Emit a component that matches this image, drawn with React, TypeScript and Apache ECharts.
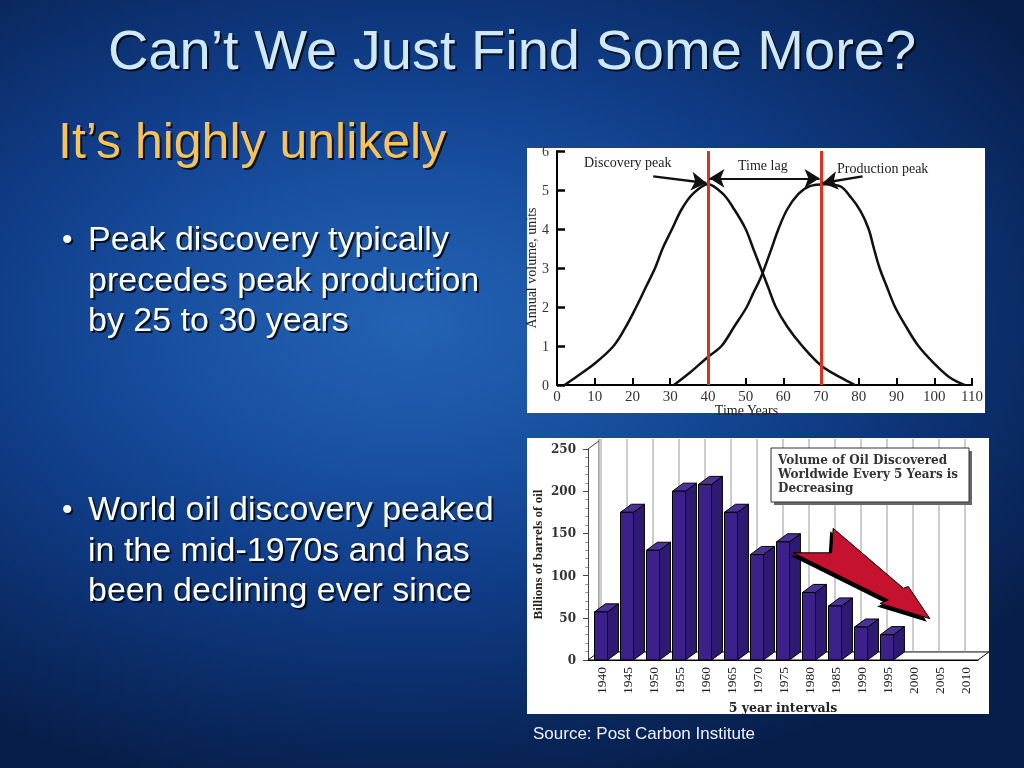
import React, { useEffect, useRef } from "react";
import * as echarts from "echarts";

// ---------- slide text ----------
const TITLE = "Can’t We Just Find Some More?";
const SUBTITLE = "It’s highly unlikely";
const BULLET_1 = ["Peak discovery typically", "precedes peak production", "by 25 to 30 years"];
const BULLET_2 = ["World oil discovery peaked", "in the mid-1970s and has", "been declining ever since"];
const SOURCE = "Source: Post Carbon Institute";

// ---------- top chart: discovery vs production ----------
const DISCOVERY_X = [2, 5, 10, 15, 18, 21, 23.5, 26, 28, 30.5, 33, 36, 40, 44, 47, 50, 52, 54, 56, 58, 61, 65, 70, 75, 79];
const DISCOVERY_Y = [0, 0.2, 0.55, 1.0, 1.45, 2.0, 2.5, 3.0, 3.5, 4.0, 4.5, 4.9, 5.15, 4.9, 4.5, 4.0, 3.5, 3.0, 2.5, 2.0, 1.5, 1.0, 0.5, 0.2, 0];
const PRODUCTION_X = [31, 35, 40, 43.6, 47, 50.3, 52, 54, 56.5, 58.7, 61, 64, 67, 71, 75, 78, 80.5, 82.6, 84, 85.5, 87.5, 89.6, 92.5, 95.8, 100, 104, 108];
const PRODUCTION_Y = [0, 0.3, 0.72, 1.0, 1.5, 2.0, 2.35, 2.75, 3.4, 4.0, 4.5, 4.9, 5.1, 5.15, 5.1, 4.8, 4.45, 4.0, 3.5, 3.0, 2.5, 2.0, 1.5, 1.0, 0.55, 0.2, 0];
const PEAK_YEARS = [40, 70];
const DISCOVERY_ARROW = [[25.5, 5.35], [39.6, 5.18]];
const PRODUCTION_ARROW = [[81, 5.35], [70.4, 5.18]];
const LAG_ARROW = [[40.4, 5.3], [69.6, 5.3]];
const TOP_NOTES = ["Discovery peak", "Time lag", "Production peak"];

// ---------- bottom chart: oil discovered ----------
const YEARS = ["1940", "1945", "1950", "1955", "1960", "1965", "1970", "1975", "1980", "1985", "1990", "1995", "2000", "2005", "2010"];
const OIL_DISCOVERED = [57, 175, 130, 200, 208, 175, 125, 140, 80, 64, 39, 30, null, null, null];
const NOTE_LINES = ["Volume of Oil Discovered", "Worldwide Every 5 Years is", "Decreasing"];
// red trend arrow outline in (category index, value) space
const TREND_ARROW = [[7.4, 127], [8.87, 127], [8.93, 156], [11.63, 85], [11.82, 87], [12.65, 49], [10.73, 67], [11.05, 71]];

const SERIF = '"Liberation Serif", "Times New Roman", serif';
const WSERIF = '"DejaVu Serif", serif';
const SANS = '"Liberation Sans", Arial, sans-serif';

export default function App() {
  const ref = useRef<HTMLDivElement>(null);

  useEffect(() => {
    if (!ref.current) return;
    const chart = echarts.init(ref.current, undefined, { renderer: "svg" });

    const DEPTH_X = 0.42;
    const DEPTH_Y = 0.31;
    const BAR_W = 0.5;

    const textEl = (text: string, x: number, y: number, font: string, fill: string, align = "left", z = 20) => ({
      type: "text",
      x,
      y,
      z,
      silent: true,
      style: { text, font, fill, align, verticalAlign: "middle", textAlign: align, textVerticalAlign: "middle" },
    });
    // slide text with a dark drop shadow (drawn as an offset copy)
    const shadowed = (text: string, x: number, y: number, font: string, fill: string, align = "left") => [
      textEl(text, x + 2, y + 2, font, "rgba(0,0,0,0.75)", align, 19),
      textEl(text, x, y, font, fill, align, 20),
    ];

    const graphics: any[] = [
      { type: "rect", z: -5, silent: true, shape: { x: 527, y: 148, width: 458, height: 265 }, style: { fill: "#ffffff" } },
      { type: "rect", z: -5, silent: true, shape: { x: 527, y: 438, width: 462, height: 276 }, style: { fill: "#ffffff" } },
      ...shadowed(TITLE, 512, 49, `56px ${SANS}`, "#cfe9fb", "center"),
      ...shadowed(SUBTITLE, 58, 141, `50px ${SANS}`, "#f6c25a"),
      ...shadowed("•", 62, 238, `30px ${SANS}`, "#ffffff"),
      ...shadowed("•", 62, 508, `30px ${SANS}`, "#ffffff"),
      ...BULLET_1.flatMap((t, i) => shadowed(t, 88, 238 + i * 40.5, `34px ${SANS}`, "#ffffff")),
      ...BULLET_2.flatMap((t, i) => shadowed(t, 88, 508 + i * 40.5, `34px ${SANS}`, "#ffffff")),
      textEl(SOURCE, 533, 733, `17px ${SANS}`, "#eef3ff"),
      textEl(TOP_NOTES[0], 584, 162, `14px ${SERIF}`, "#222"),
      textEl(TOP_NOTES[1], 738, 165, `14px ${SERIF}`, "#222"),
      textEl(TOP_NOTES[2], 837, 168, `14px ${SERIF}`, "#222"),
      { type: "rect", z: 18, silent: true, shape: { x: 774, y: 451, width: 198, height: 54 }, style: { fill: "#666" } },
      { type: "rect", z: 19, silent: true, shape: { x: 771, y: 448, width: 198, height: 54 }, style: { fill: "#fff", stroke: "#333", lineWidth: 1 } },
      ...NOTE_LINES.map((t, i) => textEl(t, 778, 460 + i * 14, `bold 12px ${WSERIF}`, "#333")),
    ];

    const option: any = {
      animation: false,
      grid: [
        { left: 557, top: 151, width: 415, height: 234 },
        { left: 588, top: 449, width: 390, height: 211 },
      ],
      xAxis: [
        {
          type: "value",
          gridIndex: 0,
          min: 0,
          max: 110,
          interval: 10,
          name: "Time Years",
          nameLocation: "middle",
          nameGap: 18,
          nameTextStyle: { fontFamily: SERIF, fontSize: 14, color: "#222", padding: [0, 36, 0, 0] },
          axisLine: { lineStyle: { color: "#000", width: 2 } },
          axisTick: { inside: true, length: 7, lineStyle: { color: "#000", width: 2 } },
          axisLabel: { fontFamily: SERIF, fontSize: 15, color: "#333", margin: 3 },
          splitLine: { show: false },
        },
        {
          type: "category",
          gridIndex: 1,
          data: YEARS,
          name: "5 year intervals",
          nameLocation: "middle",
          nameGap: 41,
          nameTextStyle: { fontFamily: WSERIF, fontWeight: "bold", fontSize: 12.5, color: "#222" },
          axisLine: { lineStyle: { color: "#000", width: 1 } },
          axisTick: { length: 6, lineStyle: { color: "#333" } },
          axisLabel: { rotate: 90, fontFamily: SERIF, fontSize: 13.5, color: "#222", margin: 7 },
          splitLine: { show: false },
        },
      ],
      yAxis: [
        {
          type: "value",
          gridIndex: 0,
          min: 0,
          max: 6,
          interval: 1,
          name: "Annual volume, units",
          nameLocation: "middle",
          nameGap: 16,
          nameTextStyle: { fontFamily: SERIF, fontSize: 14, color: "#222" },
          axisLine: { show: true, lineStyle: { color: "#000", width: 2 } },
          axisTick: { show: true, inside: true, length: 8, lineStyle: { color: "#000", width: 2.5 } },
          axisLabel: { fontFamily: SERIF, fontSize: 14, color: "#333", margin: 8 },
          splitLine: { show: false },
        },
        {
          type: "value",
          gridIndex: 1,
          min: 0,
          max: 250,
          interval: 50,
          name: "Billions of barrels of oil",
          nameLocation: "middle",
          nameGap: 44,
          nameTextStyle: { fontFamily: SERIF, fontWeight: "bold", fontSize: 13, color: "#222" },
          axisLine: { show: true, lineStyle: { color: "#444", width: 1 } },
          axisTick: { show: true, length: 5, lineStyle: { color: "#444" } },
          minorTick: { show: true, splitNumber: 5, length: 3, lineStyle: { color: "#999" } },
          axisLabel: { fontFamily: WSERIF, fontWeight: "bold", fontSize: 12, color: "#333", margin: 12 },
          splitLine: { show: false },
        },
      ],
      series: [
        {
          name: "Discovery",
          type: "line",
          xAxisIndex: 0,
          yAxisIndex: 0,
          data: DISCOVERY_X.map((x, i) => [x, DISCOVERY_Y[i]]),
          smooth: 0.35,
          showSymbol: false,
          lineStyle: { color: "#111", width: 2.5 },
          z: 3,
        },
        {
          name: "Production",
          type: "line",
          xAxisIndex: 0,
          yAxisIndex: 0,
          data: PRODUCTION_X.map((x, i) => [x, PRODUCTION_Y[i]]),
          smooth: 0.35,
          showSymbol: false,
          lineStyle: { color: "#111", width: 2.5 },
          z: 3,
        },
        {
          name: "Peaks",
          type: "line",
          xAxisIndex: 0,
          yAxisIndex: 0,
          data: [],
          z: 4,
          markLine: {
            silent: true,
            symbol: "none",
            label: { show: false },
            lineStyle: { color: "#d8331f", width: 3, type: "solid" },
            data: PEAK_YEARS.map((x) => ({ xAxis: x })),
          },
        },
        {
          name: "Peak arrows",
          type: "line",
          xAxisIndex: 0,
          yAxisIndex: 0,
          data: [],
          z: 5,
          markLine: {
            silent: true,
            symbol: ["none", "arrow"],
            symbolSize: [14, 15],
            label: { show: false },
            lineStyle: { color: "#111", width: 2.4, type: "solid" },
            data: [
              [{ coord: DISCOVERY_ARROW[0] }, { coord: DISCOVERY_ARROW[1] }],
              [{ coord: PRODUCTION_ARROW[0] }, { coord: PRODUCTION_ARROW[1] }],
            ],
          },
        },
        {
          name: "Lag arrow",
          type: "line",
          xAxisIndex: 0,
          yAxisIndex: 0,
          data: [],
          z: 5,
          markLine: {
            silent: true,
            symbol: ["arrow", "arrow"],
            symbolSize: [14, 15],
            label: { show: false },
            lineStyle: { color: "#111", width: 2, type: "solid" },
            data: [[{ coord: LAG_ARROW[0] }, { coord: LAG_ARROW[1] }]],
          },
        },
        {
          name: "Walls",
          type: "custom",
          xAxisIndex: 1,
          yAxisIndex: 1,
          clip: false,
          silent: true,
          z: 1,
          data: [[0, 0]],
          renderItem: (params: any, api: any) => {
            const cs = params.coordSys;
            const band = api.size([1, 0])[0];
            const dx = band * DEPTH_X;
            const dy = band * DEPTH_Y;
            const x0 = cs.x;
            const x1 = cs.x + cs.width;
            const y0 = cs.y + cs.height;
            const yTop = cs.y;
            const children: any[] = [
              {
                type: "polygon",
                shape: { points: [[x0, y0], [x1, y0], [x1 + dx, y0 - dy], [x0 + dx, y0 - dy]] },
                style: { fill: "#fff", stroke: "#000", lineWidth: 1 },
              },
              { type: "line", shape: { x1: x0 + dx, y1: y0 - dy, x2: x0 + dx, y2: yTop - dy - 2 }, style: { stroke: "#666", lineWidth: 1 } },
              { type: "line", shape: { x1: x0, y1: yTop, x2: x0 + dx, y2: yTop - dy }, style: { stroke: "#444", lineWidth: 1 } },
            ];
            YEARS.forEach((_, i) => {
              const cx = api.coord([i, 0])[0];
              children.push({
                type: "line",
                shape: { x1: cx, y1: y0 - dy, x2: cx, y2: yTop - dy - 2 },
                style: { stroke: "#9a9a9a", lineWidth: 1 },
              });
            });
            return { type: "group", children };
          },
        },
        {
          name: "Oil discovered",
          type: "custom",
          xAxisIndex: 1,
          yAxisIndex: 1,
          clip: false,
          z: 3,
          encode: { x: 0, y: 1 },
          data: OIL_DISCOVERED.map((v, i) => [i, v]).filter((d) => d[1] !== null),
          renderItem: (params: any, api: any) => {
            const i = api.value(0);
            const v = api.value(1);
            const band = api.size([1, 0])[0];
            const dx = band * DEPTH_X;
            const dy = band * DEPTH_Y;
            const w = band * BAR_W;
            const [cx, yv] = api.coord([i, v]);
            const y0 = api.coord([i, 0])[1];
            const l = cx - w / 2;
            const r = cx + w / 2;
            const stroke = { stroke: "#000", lineWidth: 1 };
            return {
              type: "group",
              children: [
                { type: "polygon", shape: { points: [[r, yv], [r + dx, yv - dy], [r + dx, y0 - dy], [r, y0]] }, style: { fill: "#2f1a72", ...stroke } },
                { type: "polygon", shape: { points: [[l, yv], [l + dx, yv - dy], [r + dx, yv - dy], [r, yv]] }, style: { fill: "#4a3299", ...stroke } },
                { type: "rect", shape: { x: l, y: yv, width: w, height: y0 - yv }, style: { fill: "#3b2189", ...stroke } },
              ],
            };
          },
        },
        {
          name: "Trend",
          type: "custom",
          xAxisIndex: 1,
          yAxisIndex: 1,
          clip: false,
          silent: true,
          z: 6,
          data: [[0, 0]],
          renderItem: (params: any, api: any) => {
            const band = api.size([1, 0])[0];
            const left = api.coord([0, 0])[0] - band / 2;
            const pts = TREND_ARROW.map(([idx, val]) => [left + (idx + 0.5) * band, api.coord([0, val])[1]]);
            const shadowPts = pts.map(([x, y]) => [x - 3, y + 3]);
            return {
              type: "group",
              children: [
                { type: "polygon", shape: { points: shadowPts }, style: { fill: "#000" } },
                { type: "polygon", shape: { points: pts }, style: { fill: "#c4122f", stroke: "#000", lineWidth: 1 } },
              ],
            };
          },
        },
      ],
      graphic: graphics,
    };

    chart.setOption(option);
    return () => chart.dispose();
  }, []);

  return (
    <div
      style={{
        position: "fixed",
        left: 0,
        top: 0,
        width: 1024,
        height: 768,
        background:
          "radial-gradient(ellipse 75% 62% at 40% 42%, #2362b4 0%, #1a52a3 28%, #113f8c 52%, #0b2d69 78%, #071e4a 100%)",
      }}
    >
      <div ref={ref} style={{ width: 1024, height: 768 }} />
    </div>
  );
}
